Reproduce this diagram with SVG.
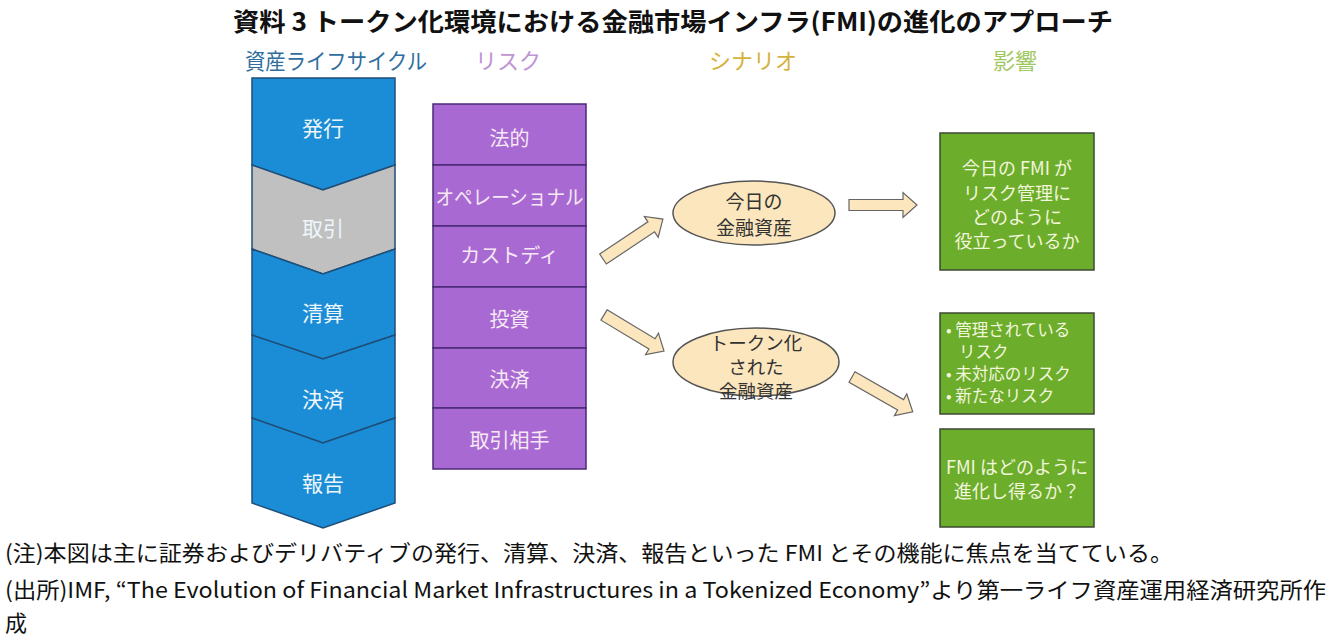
<svg xmlns="http://www.w3.org/2000/svg" width="1330" height="635" viewBox="0 0 1330 635">
<style>
text{font-family:"Noto Sans CJK JP","Noto Sans",sans-serif;dominant-baseline:central}
.title{font-size:25px;font-weight:bold;fill:#111}
.note{font-size:22px;fill:#111}
.hdr{font-size:22px;text-anchor:middle}
.chev{stroke:#1f4e79;stroke-width:1.5}
.blue{fill:#1a8dd6}
.gray{fill:#c0c0c0}
.ctext{font-size:21px;fill:#eef6fb;text-anchor:middle}
.risk{fill:#a86ad2;stroke:#4a2a78;stroke-width:1.5}
.rtext{font-size:20px;fill:#f6e8f4;text-anchor:middle}
.ell{fill:#fbe6be;stroke:#555;stroke-width:1.5}
.etext{font-size:19px;fill:#333;text-anchor:middle}
.es{font-size:18.5px}
.arrow{fill:#fbe6be;stroke:#666;stroke-width:1.2}
.gbox{fill:#6dad2c;stroke:#3b4a30;stroke-width:1.5}
.gtext{font-size:18px;fill:#f2f6dc}
.gs{font-size:16.5px}
.gc{text-anchor:middle}
</style>
<defs>
<polygon id="arr72" points="0,-6 58,-6 58,-12.5 72,0 58,12.5 58,6 0,6"/>
<polygon id="arr70" points="0,-6 56,-6 56,-12.5 70,0 56,12.5 56,6 0,6"/>
<polygon id="arr68" points="0,-5.5 54,-5.5 54,-12.5 68,0 54,12.5 54,5.5 0,5.5"/>
</defs>
<rect width="1330" height="635" fill="#fff"/>

<g id="title">
<text class="title" x="233" y="20" textLength="880" lengthAdjust="spacingAndGlyphs">資料 3  トークン化環境における金融市場インフラ(FMI)の進化のアプローチ</text>
</g>

<g id="headers">
<text class="hdr" x="336" y="59" fill="#2f6e9e" textLength="182" lengthAdjust="spacingAndGlyphs">資産ライフサイクル</text>
<text class="hdr" x="508" y="59" fill="#bf94d4">リスク</text>
<text class="hdr" x="753" y="59" fill="#d5b23e">シナリオ</text>
<text class="hdr" x="1015" y="59" fill="#9fc862">影響</text>
</g>

<g id="lifecycle">
<g id="lc-issue"><polygon class="chev blue" points="252,78 395,78 395,165 323,190 252,165"/><text class="ctext" x="323" y="127">発行</text></g>
<g id="lc-trade"><polygon class="chev gray" points="252,165 323,190 395,165 395,249 323,274 252,249"/><text class="ctext" x="323" y="227">取引</text></g>
<g id="lc-clear"><polygon class="chev blue" points="252,249 323,274 395,249 395,335 323,359 252,335"/><text class="ctext" x="323" y="312">清算</text></g>
<g id="lc-settle"><polygon class="chev blue" points="252,335 323,359 395,335 395,418 323,443 252,418"/><text class="ctext" x="323" y="398">決済</text></g>
<g id="lc-report"><polygon class="chev blue" points="252,418 323,443 395,418 395,503 323,528 252,503"/><text class="ctext" x="323" y="482">報告</text></g>
</g>

<g id="risks">
<g id="r-legal"><rect class="risk" x="433" y="104" width="153" height="61"/><text class="rtext" x="509.5" y="137">法的</text></g>
<g id="r-op"><rect class="risk" x="433" y="165" width="153" height="61"/><text class="rtext" x="509.5" y="196" textLength="148" lengthAdjust="spacingAndGlyphs">オペレーショナル</text></g>
<g id="r-cust"><rect class="risk" x="433" y="226" width="153" height="61"/><text class="rtext" x="509.5" y="254">カストディ</text></g>
<g id="r-inv"><rect class="risk" x="433" y="287" width="153" height="61"/><text class="rtext" x="509.5" y="318">投資</text></g>
<g id="r-settle"><rect class="risk" x="433" y="348" width="153" height="60"/><text class="rtext" x="509.5" y="378">決済</text></g>
<g id="r-cp"><rect class="risk" x="433" y="408" width="153" height="61"/><text class="rtext" x="509.5" y="439">取引相手</text></g>
</g>

<g id="scenario-today">
<ellipse class="ell" cx="754" cy="213" rx="81" ry="32"/>
<text class="etext"><tspan x="754" y="200">今日の</tspan><tspan x="754" y="226">金融資産</tspan></text>
</g>

<g id="scenario-token">
<ellipse class="ell" cx="756" cy="362" rx="83" ry="34"/>
<text class="etext es"><tspan x="756" y="342">トークン化</tspan><tspan x="756" y="366">された</tspan><tspan x="756" y="390">金融資産</tspan></text>
</g>

<g id="connectors">
<use href="#arr72" class="arrow" transform="translate(603,259) rotate(-33.7)"/>
<use href="#arr68" class="arrow" transform="translate(849,205)"/>
<use href="#arr70" class="arrow" transform="translate(604,315) rotate(31)"/>
<use href="#arr70" class="arrow" transform="translate(852,377) rotate(29.8)"/>
</g>

<g id="impact-today">
<rect class="gbox" x="940" y="133" width="154" height="137"/>
<text class="gtext gc"><tspan x="1017" y="167">今日の FMI が</tspan><tspan x="1017" y="192">リスク管理に</tspan><tspan x="1017" y="216">どのように</tspan><tspan x="1017" y="240">役立っているか</tspan></text>
</g>

<g id="impact-risks">
<rect class="gbox" x="940" y="313" width="154" height="101"/>
<text class="gtext gs"><tspan x="946" y="329">• 管理されている</tspan><tspan x="959" y="351">リスク</tspan><tspan x="946" y="373">• 未対応のリスク</tspan><tspan x="946" y="395">• 新たなリスク</tspan></text>
</g>

<g id="impact-evolve">
<rect class="gbox" x="940" y="429" width="154" height="98"/>
<text class="gtext gc"><tspan x="1017" y="466">FMI はどのように</tspan><tspan x="1017" y="490">進化し得るか？</tspan></text>
</g>

<g id="notes">
<text class="note" x="5" y="551" textLength="1168" lengthAdjust="spacingAndGlyphs">(注)本図は主に証券およびデリバティブの発行、清算、決済、報告といった FMI とその機能に焦点を当てている。</text>
<text class="note" x="5" y="588" textLength="1321" lengthAdjust="spacingAndGlyphs">(出所)IMF, “The Evolution of Financial Market Infrastructures in a Tokenized Economy”より第一ライフ資産運用経済研究所作</text>
<text class="note" x="5" y="621">成</text>
</g>
</svg>
